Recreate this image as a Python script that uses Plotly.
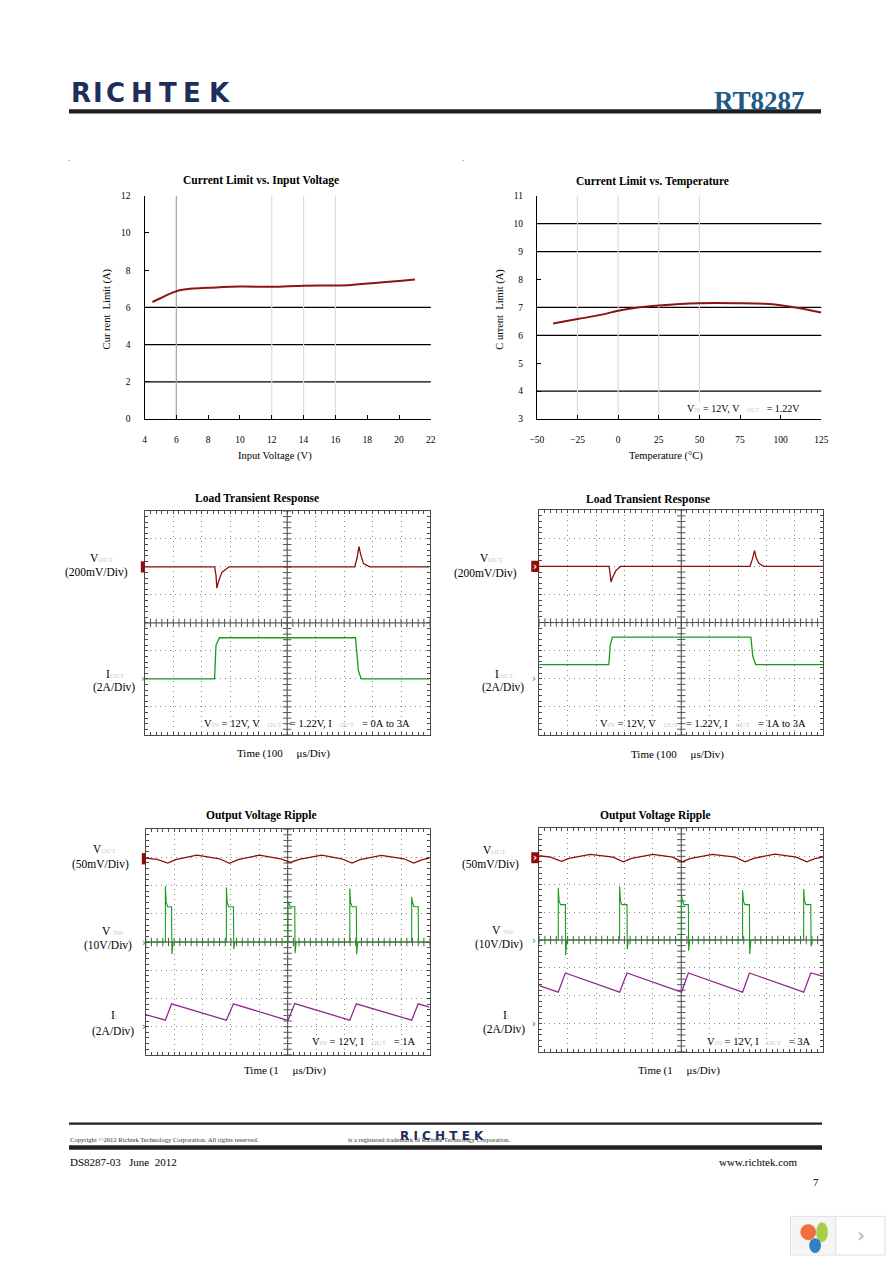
import plotly.graph_objects as go

PAGE_W, PAGE_H = 892, 1263
OX, OY = 0, 0
W, H = PAGE_W - 2 * OX, PAGE_H - 2 * OY
SERIF = "Liberation Serif"
LOGO_FONT = "DejaVu Sans"


def X(x):
    return (x - OX) / W


def Y(y):
    return 1 - (y - OY) / H


# ---------------- data: Current Limit vs. Input Voltage ----------------
vin_v = [4.5, 5.0, 5.5, 6.0, 6.5, 7.0, 8.0, 10.0, 12.0, 14.0, 16.0, 17.0, 18.0, 19.0, 20.0, 21.0]
ilim_vs_vin = [6.29, 6.49, 6.70, 6.87, 6.96, 7.01, 7.05, 7.12, 7.11, 7.17, 7.18, 7.21, 7.28, 7.35, 7.42, 7.50]
vin_ticks = [4, 6, 8, 10, 12, 14, 16, 18, 20, 22]
ilim1_ticks = [0, 2, 4, 6, 8, 10, 12]
vin_hgrid = [2, 4, 6]
vin_vgrid_dark = [6]
vin_vgrid_light = [12, 14, 16]

# ---------------- data: Current Limit vs. Temperature ----------------
temp_c = [-40, -25, -10, 0, 10, 25, 50, 75, 90, 100, 110, 125]
ilim_vs_temp = [6.42, 6.58, 6.74, 6.88, 6.98, 7.07, 7.15, 7.15, 7.13, 7.08, 6.99, 6.82]
temp_ticks = [-50, -25, 0, 25, 50, 75, 100, 125]
ilim2_ticks = [3, 4, 5, 6, 7, 8, 9, 10, 11]
temp_hgrid = [4, 6, 7, 9, 10]
temp_vgrid = [-25, 0, 25, 50]

# ---------------- scope captures (units: divisions, x 0..10, y 0..8) ----------------
# Load transient, 0A to 3A
lt1_t_vout = [0, 2.45, 2.50, 2.53, 2.58, 2.70, 2.95, 7.37, 7.45, 7.52, 7.58, 7.68, 7.90, 10]
lt1_vout = [6.0, 6.0, 5.70, 5.24, 5.45, 5.80, 6.0, 6.0, 6.30, 6.73, 6.45, 6.12, 6.0, 6.0]
lt1_t_iout = [0, 2.45, 2.50, 2.62, 7.40, 7.50, 7.60, 10]
lt1_iout = [2.0, 2.0, 3.20, 3.47, 3.47, 2.30, 2.0, 2.0]
# Load transient, 1A to 3A
lt2_t_vout = [0, 2.46, 2.50, 2.53, 2.58, 2.70, 2.86, 7.42, 7.50, 7.58, 7.64, 7.74, 7.90, 10]
lt2_vout = [6.0, 6.0, 5.70, 5.44, 5.60, 5.85, 6.0, 6.0, 6.25, 6.56, 6.30, 6.10, 6.0, 6.0]
lt2_t_iout = [0, 2.45, 2.50, 2.58, 7.45, 7.52, 7.62, 10]
lt2_iout = [2.5, 2.5, 3.20, 3.48, 3.48, 2.80, 2.5, 2.5]
# Output ripple, 1A
rp1_t_vout = [0, 0.40, 0.77, 1.05, 1.80, 2.60, 2.95, 3.25, 4.00, 4.75, 5.10, 5.40, 6.20, 6.90, 7.27, 7.55, 8.30, 9.10, 9.44, 9.75, 10]
rp1_vout = [6.97, 6.93, 6.80, 6.92, 7.08, 6.95, 6.79, 6.92, 7.08, 6.95, 6.82, 6.93, 7.08, 6.95, 6.80, 6.92, 7.07, 6.95, 6.80, 6.92, 6.97]
rp1_t_vsw = [0, 0.69, 0.69, 0.72, 0.77, 0.91, 0.92, 0.96,
             2.84, 2.84, 2.87, 2.92, 3.09, 3.10, 3.14,
             5.01, 5.01, 5.04, 5.09, 5.25, 5.26, 5.30,
             7.19, 7.19, 7.22, 7.27, 7.42, 7.43, 7.47,
             9.37, 9.37, 9.40, 9.45, 9.60, 9.61, 9.65, 10]
rp1_vsw = [4.0, 4.0, 5.98, 5.40, 5.25, 5.25, 3.57, 4.0,
           4.0, 5.93, 5.40, 5.25, 5.25, 3.75, 4.0,
           4.0, 5.45, 5.35, 5.25, 5.25, 3.60, 4.0,
           4.0, 5.90, 5.40, 5.25, 5.25, 3.57, 4.0,
           4.0, 5.60, 5.40, 5.25, 5.25, 3.95, 4.0, 4.0]
rp1_t_il = [0, 0.69, 0.91, 2.84, 3.09, 5.01, 5.25, 7.19, 7.42, 9.37, 9.60, 10]
rp1_il = [1.43, 1.23, 1.81, 1.23, 1.81, 1.22, 1.82, 1.23, 1.81, 1.23, 1.81, 1.69]
# Output ripple, 3A
rp2_t_vout = [0, 0.40, 0.78, 1.05, 1.80, 2.60, 2.96, 3.25, 4.00, 4.70, 5.03, 5.30, 6.10, 6.90, 7.25, 7.55, 8.30, 9.05, 9.42, 9.70, 10]
rp2_vout = [7.02, 6.97, 6.82, 6.93, 7.07, 6.97, 6.80, 6.93, 7.07, 6.97, 6.80, 6.92, 7.07, 6.97, 6.80, 6.93, 7.08, 6.97, 6.80, 6.92, 6.98]
rp2_t_vsw = [0, 0.67, 0.67, 0.70, 0.75, 0.92, 0.93, 0.97,
             2.83, 2.83, 2.86, 2.91, 3.09, 3.10, 3.14,
             5.01, 5.01, 5.04, 5.09, 5.25, 5.26, 5.30,
             7.16, 7.16, 7.19, 7.24, 7.40, 7.41, 7.45,
             9.31, 9.31, 9.34, 9.39, 9.56, 9.57, 9.61, 10]
rp2_vsw = [4.0, 4.0, 5.87, 5.40, 5.27, 5.27, 3.46, 4.0,
           4.0, 5.93, 5.40, 5.27, 5.27, 3.67, 4.0,
           4.0, 5.63, 5.40, 5.27, 5.27, 3.62, 4.0,
           4.0, 5.78, 5.40, 5.27, 5.27, 3.50, 4.0,
           4.0, 5.83, 5.40, 5.27, 5.27, 3.77, 4.0, 4.0]
rp2_t_il = [0, 0.67, 0.92, 2.83, 3.09, 5.01, 5.25, 7.16, 7.40, 9.31, 9.56, 10]
rp2_il = [2.37, 2.13, 2.82, 2.13, 2.82, 2.13, 2.82, 2.13, 2.82, 2.13, 2.82, 2.70]

# channel reference levels (divisions)
lt1_ref = {"vout": 6.0, "iout": 2.0}
lt2_ref = {"vout": 6.0, "iout": 2.0}
rp1_ref = {"vout": 6.95, "vsw": 4.0, "il": 1.0}
rp2_ref = {"vout": 6.95, "vsw": 4.0, "il": 1.0}

# ---------------- colours ----------------
C_CURVE = "#8c1414"
C_VOUT = "#8b0d0d"
C_GREEN = "#1a9a1a"
C_PURPLE = "#8e2a8e"
C_SUB = "#c9c9c9"


def sub(s, size=7):
    return f'<span style="font-size:{size}px;color:{C_SUB}">{s}</span>'


def sp(n):
    return "\u00a0" * n


fig = go.Figure()
annotations = []
shapes = []


def ann(text, x, y, size=11, color="black", family=SERIF, xanchor="center", angle=0, bg=None):
    d = dict(text=text, x=X(x), y=Y(y), xref="paper", yref="paper", showarrow=False,
             xanchor=xanchor, yanchor="middle", textangle=angle,
             font=dict(family=family, size=size, color=color), borderpad=0)
    if bg:
        d["bgcolor"] = bg
    annotations.append(d)


def prect(x0, y0, x1, y1, color, line=None):
    shapes.append(dict(type="rect", xref="paper", yref="paper", x0=X(x0), x1=X(x1),
                       y0=Y(y1), y1=Y(y0), fillcolor=color,
                       line=dict(width=0) if line is None else line, layer="above"))


# ---------------- top line charts ----------------
tick_font = dict(family=SERIF, size=9.5, color="black")


def line_axes(xd, yd, xr, yr, xt, yt):
    xa = dict(domain=[X(xd[0]), X(xd[1])], range=xr, tickvals=xt, showline=True, linecolor="black",
              linewidth=1, ticks="inside", ticklen=4, tickcolor="black", showgrid=False, zeroline=False,
              tickfont=tick_font, ticklabelstandoff=12, fixedrange=True)
    ya = dict(domain=[Y(yd[1]), Y(yd[0])], range=yr, tickvals=yt, showline=True, linecolor="black",
              linewidth=1, ticks="inside", ticklen=4, tickcolor="black", showgrid=False, zeroline=False,
              tickfont=tick_font, ticklabelstandoff=11, fixedrange=True)
    return xa, ya


xa1, ya1 = line_axes((139.7, 430.6), (192.3, 417.3), [4, 22], [0, 12], vin_ticks, ilim1_ticks)
xa2, ya2 = line_axes((538.3, 827.3), (192.3, 417.3), [-50, 125], [3, 11], temp_ticks, ilim2_ticks)
xa1["anchor"], ya1["anchor"] = "y", "x"
xa2["anchor"], ya2["anchor"] = "y2", "x2"

for v in vin_hgrid:
    shapes.append(dict(type="line", xref="x domain", yref="y", x0=0, x1=1, y0=v, y1=v,
                       line=dict(color="black", width=1.2), layer="below"))
for v in vin_vgrid_dark:
    shapes.append(dict(type="line", xref="x", yref="y domain", x0=v, x1=v, y0=0, y1=1,
                       line=dict(color="#a8a8a8", width=1.2), layer="below"))
for v in vin_vgrid_light:
    shapes.append(dict(type="line", xref="x", yref="y domain", x0=v, x1=v, y0=0, y1=1,
                       line=dict(color="#dcdcdc", width=1.2), layer="below"))
for v in temp_hgrid:
    shapes.append(dict(type="line", xref="x2 domain", yref="y2", x0=0, x1=1, y0=v, y1=v,
                       line=dict(color="black", width=1.2), layer="below"))
for v in temp_vgrid:
    shapes.append(dict(type="line", xref="x2", yref="y2 domain", x0=v, x1=v, y0=0, y1=1,
                       line=dict(color="#dcdcdc", width=1.2), layer="below"))

fig.add_trace(go.Scatter(x=vin_v, y=ilim_vs_vin, mode="lines", line=dict(color=C_CURVE, width=2, shape="spline"),
                         xaxis="x", yaxis="y", hoverinfo="skip"))
fig.add_trace(go.Scatter(x=temp_c, y=ilim_vs_temp, mode="lines", line=dict(color=C_CURVE, width=2, shape="spline"),
                         xaxis="x2", yaxis="y2", hoverinfo="skip"))

ann("<b>Current Limit vs. Input Voltage</b>", 257.7, 177, size=11.5)
ann("<b>Current Limit vs. Temperature</b>", 655.7, 177.5, size=11.5)
ann("Input Voltage (V)", 272.3, 455, size=10.5)
ann("Temperature (°C)", 669, 455, size=10.5)
ann(f"Cur{sp(1)}rent{sp(2)}Limit{sp(1)}(A)", 101.7, 306.7, size=10.5, angle=-90)
ann(f"C{sp(1)}urrent{sp(2)}Limit{sp(1)}(A)", 500, 307, size=10.5, angle=-90)
ann(f"V{sub('IN', 6)}{sp(1)}={sp(1)}12V,{sp(1)}V{sp(3)}{sub('OUT', 6)}{sp(3)}={sp(1)}1.22V",
    690, 406.7, size=10, xanchor="left", bg="white")

# ---------------- scope panels ----------------
scopes = [
    dict(n=3, xd=(140, 429.3), yd=(510, 735.7)),
    dict(n=4, xd=(540.7, 829.3), yd=(509.3, 735.7)),
    dict(n=5, xd=(141, 429.3), yd=(830.7, 1058.3)),
    dict(n=6, xd=(540.7, 829.3), yd=(830, 1055)),
]
layout_axes = {"xaxis": xa1, "yaxis": ya1, "xaxis2": xa2, "yaxis2": ya2}
BORDER = "#4a4a4a"
div_x = list(range(0, 11))
div_y = list(range(0, 9))
minor_x = [i / 5 for i in range(0, 51)]
minor_y = [i / 5 for i in range(0, 41)]
for s in scopes:
    n = s["n"]
    common = dict(showline=True, linecolor=BORDER, linewidth=1, mirror="ticks", ticks="inside", ticklen=3,
                  tickcolor=BORDER, showticklabels=False, showgrid=True, gridcolor="#8a8a8a",
                  griddash="1px,4px", gridwidth=1, zeroline=False, fixedrange=True,
                  minor=dict(ticks="inside", ticklen=3, tickcolor=BORDER, showgrid=False))
    xa = dict(common, domain=[X(s["xd"][0]), X(s["xd"][1])], range=[0, 10], tickvals=div_x,
              anchor=f"y{n}")
    xa["minor"] = dict(common["minor"], tickvals=minor_x)
    ya = dict(common, domain=[Y(s["yd"][1]), Y(s["yd"][0])], range=[0, 8], tickvals=div_y,
              anchor=f"x{n}")
    ya["minor"] = dict(common["minor"], tickvals=minor_y)
    layout_axes[f"xaxis{n}"] = xa
    layout_axes[f"yaxis{n}"] = ya
    # centre crosshair
    shapes.append(dict(type="line", xref=f"x{n}", yref=f"y{n}", x0=5, x1=5, y0=0, y1=8,
                       line=dict(color="#333", width=1), layer="below"))
    shapes.append(dict(type="line", xref=f"x{n}", yref=f"y{n}", x0=0, x1=10, y0=4, y1=4,
                       line=dict(color="#333", width=1), layer="below"))
    fig.add_trace(go.Scatter(x=minor_x, y=[4] * len(minor_x), mode="markers", xaxis=f"x{n}", yaxis=f"y{n}",
                             marker=dict(symbol="line-ns", size=6, line=dict(width=1, color="#555")),
                             hoverinfo="skip"))
    fig.add_trace(go.Scatter(x=[5] * len(minor_y), y=minor_y, mode="markers", xaxis=f"x{n}", yaxis=f"y{n}",
                             marker=dict(symbol="line-ew", size=6, line=dict(width=1, color="#555")),
                             hoverinfo="skip"))


def scope_line(n, t, v, color, width=1.3):
    fig.add_trace(go.Scatter(x=t, y=v, mode="lines", xaxis=f"x{n}", yaxis=f"y{n}",
                             line=dict(color=color, width=width), hoverinfo="skip"))


scope_line(3, lt1_t_vout, lt1_vout, C_VOUT)
scope_line(3, lt1_t_iout, lt1_iout, C_GREEN)
scope_line(4, lt2_t_vout, lt2_vout, C_VOUT)
scope_line(4, lt2_t_iout, lt2_iout, C_GREEN)
scope_line(5, rp1_t_vout, rp1_vout, C_VOUT)
scope_line(5, rp1_t_vsw, rp1_vsw, C_GREEN, 1.1)
scope_line(5, rp1_t_il, rp1_il, C_PURPLE)
scope_line(6, rp2_t_vout, rp2_vout, C_VOUT)
scope_line(6, rp2_t_vsw, rp2_vsw, C_GREEN, 1.1)
scope_line(6, rp2_t_il, rp2_il, C_PURPLE)


def ref_box(n, level, wide):
    x0 = -0.028 if wide else -0.014
    shapes.append(dict(type="rect", xref=f"x{n} domain", yref=f"y{n}", x0=x0, x1=0,
                       y0=level - 0.2, y1=level + 0.2, fillcolor=C_VOUT, line=dict(width=0), layer="above"))
    if wide:
        annotations.append(dict(text="<b>›</b>", xref=f"x{n} domain", yref=f"y{n}", x=-0.014, y=level,
                                showarrow=False, xanchor="center", yanchor="middle",
                                font=dict(family="DejaVu Sans", size=10, color="white")))


def ref_arrow(n, level, color, dx):
    annotations.append(dict(text="›", xref=f"x{n} domain", yref=f"y{n}", x=dx, y=level, showarrow=False,
                            xanchor="center", yanchor="middle",
                            font=dict(family="DejaVu Sans", size=10, color=color)))


ref_box(3, lt1_ref["vout"], False)
ref_arrow(3, lt1_ref["iout"], C_GREEN, -0.008)
ref_box(4, lt2_ref["vout"], True)
ref_arrow(4, lt2_ref["iout"], C_GREEN, -0.02)
ref_box(5, rp1_ref["vout"], False)
ref_arrow(5, rp1_ref["vsw"], C_GREEN, -0.008)
ref_arrow(5, rp1_ref["il"], C_PURPLE, -0.008)
ref_box(6, rp2_ref["vout"], True)
ref_arrow(6, rp2_ref["vsw"], C_GREEN, -0.02)
ref_arrow(6, rp2_ref["il"], C_PURPLE, -0.02)

# scope titles & labels
LBL = 11.5
ann("<b>Load Transient Response</b>", 254, 497, size=11.5)
ann("<b>Load Transient Response</b>", 651, 498, size=11.5)
ann("<b>Output Voltage Ripple</b>", 258.5, 817, size=11.5)
ann("<b>Output Voltage Ripple</b>", 659, 816.5, size=11.5)

for (vx, vy, dx, dy, ix, iy, dix, diy) in [(83, 557.7, 90.5, 572.3, 100, 674.3, 108.5, 687.7),
                                          (480, 557.7, 486.5, 573.3, 495, 674.3, 504, 687.7)]:
    ann(f"V{sub('OUT')}", vx, vy, size=LBL, xanchor="left")
    ann("(200mV/Div)", dx, dy, size=LBL)
    ann(f"I{sub('OUT')}", ix, iy, size=LBL, xanchor="left")
    ann("(2A/Div)", dix, diy, size=LBL)

ann(f"V{sub('IN')}{sp(1)}={sp(1)}12V,{sp(1)}V{sp(3)}{sub('OUT')}{sp(3)}={sp(1)}1.22V,{sp(1)}I{sp(3)}{sub('OUT')}{sp(3)}={sp(1)}0A{sp(1)}to{sp(1)}3A",
    199, 724.3, size=10.5, xanchor="left")
ann(f"V{sub('IN')}{sp(1)}={sp(1)}12V,{sp(1)}V{sp(3)}{sub('OUT')}{sp(3)}={sp(1)}1.22V,{sp(1)}I{sp(3)}{sub('OUT')}{sp(3)}={sp(1)}1A{sp(1)}to{sp(1)}3A",
    601.7, 724.3, size=10.5, xanchor="left")
ann(f"Time (100{sp(5)}μs/Div)", 233, 754.5, size=11, xanchor="left")
ann(f"Time (100{sp(5)}μs/Div)", 632.7, 755.5, size=11, xanchor="left")

for (vx, vy, dvx, dvy, sx, sy, dsx, dsy, lx, ly, dlx, dly) in [
        (86.7, 851, 94.8, 866.7, 95, 933.3, 102.8, 947.7, 105, 1018.3, 108, 1034.3),
        (483, 851.7, 491, 866.7, 491.7, 932.3, 500, 946.7, 503, 1018.3, 504.5, 1032.7)]:
    ann(f"V{sub('OUT')}", vx, vy, size=LBL, xanchor="left")
    ann("(50mV/Div)", dvx, dvy, size=LBL)
    ann(f"V{sp(1)}{sub('SW')}", sx, sy, size=LBL, xanchor="left")
    ann("(10V/Div)", dsx, dsy, size=LBL)
    ann(f"I{sub('L')}", lx, ly, size=LBL, xanchor="left")
    ann("(2A/Div)", dlx, dly, size=LBL)

ann(f"V{sub('IN')}{sp(1)}={sp(1)}12V,{sp(1)}I{sp(3)}{sub('OUT')}{sp(3)}={sp(1)}1A", 309, 1045, size=10.5, xanchor="left")
ann(f"V{sub('IN')}{sp(1)}={sp(1)}12V,{sp(1)}I{sp(3)}{sub('OUT')}{sp(3)}={sp(1)}3A", 710, 1044.3, size=10.5, xanchor="left")
ann(f"Time (1{sp(5)}μs/Div)", 240, 1074.5, size=11, xanchor="left")
ann(f"Time (1{sp(5)}μs/Div)", 640, 1074.5, size=11, xanchor="left")

# ---------------- page header ----------------
NAVY = "#1d2d5c"
logo_cx = [75, 92, 110.5, 137.5, 163.3, 188.3, 216]
for ch, cx in zip("RICHTEK", logo_cx):
    ann(f"<b>{ch}</b>", cx, 88.5, size=26, color=NAVY, family=LOGO_FONT)
ann("<b>RT8287</b>", 765, 97, size=27, color="#1d5a86", family=SERIF)
prect(63, 105, 827, 109.3, "#231f20")
ann(".", 63, 155, size=8)
ann(".", 463, 155, size=8)

# ---------------- page footer ----------------
prect(63, 1126.5, 828, 1128.7, "#231f20")
ann("Copyright ©2012 Richtek Technology Corporation. All rights reserved.", 63, 1144, size=6.6,
    xanchor="left", color="#333")
ann("is a registered trademark of Richtek Technology Corporation.", 345, 1144, size=6.6,
    xanchor="left", color="#333")
ann(f"<b>R{sp(1)}I{sp(1)}C{sp(1)}H{sp(1)}T{sp(1)}E{sp(1)}K</b>", 441.5, 1140.5, size=12, color=NAVY,
    family=LOGO_FONT)
prect(63, 1149.3, 828, 1154, "#231f20")
ann(f"DS8287-03{sp(3)}June{sp(2)}2012", 63, 1166.5, size=11, xanchor="left")
ann("www.richtek.com", 805, 1166.5, size=11, xanchor="right")
ann("7", 822, 1186.5, size=11)

# ---------------- viewer widget (bottom-right) ----------------
prect(796, 1221, 892, 1260, "white", line=dict(color="#dedede", width=1))
prect(797, 1222, 842, 1259, "#f5f5f5")
shapes.append(dict(type="line", xref="paper", yref="paper", x0=X(842), x1=X(842), y0=Y(1259),
                   y1=Y(1222), line=dict(color="#dedede", width=1)))
for (x0, y0, x1, y1, col) in [(806, 1229, 822, 1245, "#f0602a"), (822, 1227, 834, 1247, "#a3c93a"),
                              (815, 1243, 827, 1258, "#1f72bf")]:
    shapes.append(dict(type="circle", xref="paper", yref="paper", x0=X(x0), x1=X(x1), y0=Y(y1),
                       y1=Y(y0), fillcolor=col, line=dict(width=0), opacity=0.9, layer="above"))
ann("›", 868, 1240, size=20, color="#b4b4b4", family="DejaVu Sans")

fig.update_layout(width=W, height=H, margin=dict(l=0, r=0, t=0, b=0), paper_bgcolor="white",
                  plot_bgcolor="white", showlegend=False, annotations=annotations, shapes=shapes,
                  **layout_axes)
fig.write_html("out.html")
